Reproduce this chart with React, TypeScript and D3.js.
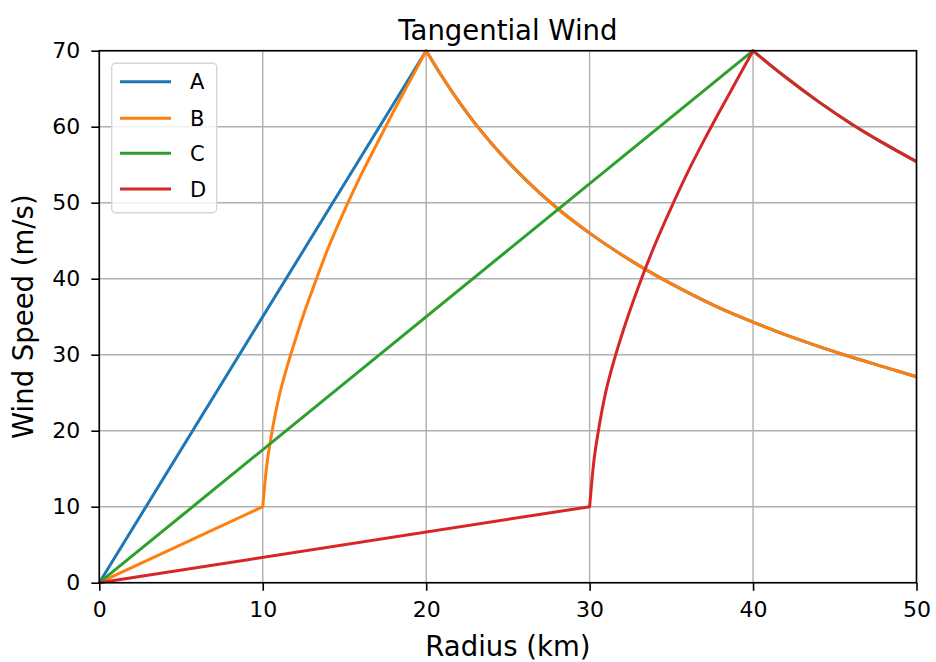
import * as d3 from "d3";
import { useRef, useEffect } from "react";

type Pt = [number, number];

// radius (km) / wind speed (m/s)
const radiusTicks = [0, 10, 20, 30, 40, 50];
const speedTicks = [0, 10, 20, 30, 40, 50, 60, 70];
const seriesNames = ["A", "B", "C", "D"];
const seriesColors = ["#1f77b4", "#ff7f0e", "#2ca02c", "#d62728"];

const aRise: Pt[] = [[0, 0], [20, 70]];
const bInner: Pt[] = [[0, 0], [10, 10]];
const bRise: Pt[] = [
  [10, 10], [10.25, 15.5], [10.5, 19], [10.75, 22], [11, 24.5], [11.5, 28.5],
  [12, 32], [12.5, 35.3], [13, 38.3], [14, 44], [15, 49], [16, 53.6],
  [17, 57.8], [18, 62], [19, 66], [20, 70]
];
const decay20: Pt[] = [
  [20, 70], [21, 66.5], [22, 63.3], [23, 60.4], [24, 57.8], [26, 53.2],
  [28, 49.3], [30, 46], [32, 43.1], [34, 40.5], [36, 38.2], [38, 36.1],
  [40, 34.3], [42, 32.6], [44, 31.1], [46, 29.7], [48, 28.4], [50, 27.1]
];
const cRise: Pt[] = [[0, 0], [40, 70]];
const dInner: Pt[] = [[0, 0], [30, 10]];
const dRise: Pt[] = [
  [30, 10], [30.25, 15.8], [30.5, 19.5], [30.75, 22.6], [31, 25.2], [31.5, 29.3],
  [32, 32.8], [32.5, 36], [33, 39], [34, 44.5], [35, 49.4], [36, 54],
  [37, 58.2], [38, 62.2], [39, 66.1], [40, 70]
];
const decay40: Pt[] = [
  [40, 70], [41, 68.2], [42, 66.5], [44, 63.3], [46, 60.4], [48, 57.8], [50, 55.4]
];

const seriesSegments: Pt[][][] = [
  [aRise, decay20],
  [bInner, bRise, decay20],
  [cRise, decay40],
  [dInner, dRise, decay40]
];

const FONT = "'DejaVu Sans', sans-serif";

export default function App() {
  const width = 936;
  const height = 662;
  const marginLeft = 99.3;
  const marginRight = width - 916.5;
  const marginTop = 50.7;
  const marginBottom = height - 582.7;

  const gx = useRef<SVGGElement>(null);
  const gy = useRef<SVGGElement>(null);

  const x = d3.scaleLinear().domain([0, 50]).range([marginLeft, width - marginRight]);
  const y = d3.scaleLinear().domain([0, 70]).range([height - marginBottom, marginTop]);

  const line = d3.line<Pt>()
    .x(d => x(d[0]))
    .y(d => y(d[1]))
    .curve(d3.curveMonotoneX);

  // join the segments into one path so the kinks get a real line join
  const pathFor = (segs: Pt[][]) =>
    segs.map((s, i) => (i === 0 ? line(s)! : "L" + line(s)!.slice(1))).join("");

  useEffect(() => {
    const ax = d3.select(gx.current!)
      .call(d3.axisBottom(x).tickValues(radiusTicks).tickSize(8).tickPadding(11));
    const ay = d3.select(gy.current!)
      .call(d3.axisLeft(y).tickValues(speedTicks).tickSize(8).tickPadding(11));
    [ax, ay].forEach(g => {
      g.select(".domain").remove();
      g.selectAll(".tick line").attr("stroke", "#000").attr("stroke-width", 1.6);
      g.selectAll(".tick text")
        .attr("fill", "#000")
        .style("font-size", "22px")
        .style("font-family", FONT);
    });
  }, [x, y]);

  const legendX = 111.7;
  const legendY = 63.3;
  const rowY = [81.7, 118.3, 153.3, 189];

  return (
    <svg width={width} height={height} style={{ position: "absolute", left: 0, top: 0 }}>
      <rect width={width} height={height} fill="#fff" />
      <g stroke="#b0b0b0" strokeWidth={1.4}>
        {radiusTicks.map(t => (
          <line key={"gx" + t} x1={x(t)} x2={x(t)} y1={y(0)} y2={y(70)} />
        ))}
        {speedTicks.map(t => (
          <line key={"gy" + t} x1={x(0)} x2={x(50)} y1={y(t)} y2={y(t)} />
        ))}
      </g>
      <g fill="none" strokeWidth={3} strokeLinejoin="round">
        {seriesSegments.map((segs, i) => (
          <path key={i} d={pathFor(segs)} stroke={seriesColors[i]} />
        ))}
      </g>
      <rect
        x={x(0)} y={y(70)} width={x(50) - x(0)} height={y(0) - y(70)}
        fill="none" stroke="#000" strokeWidth={1.6}
      />
      <g ref={gx} transform={`translate(0,${height - marginBottom})`} />
      <g ref={gy} transform={`translate(${marginLeft},0)`} />

      <g>
        <rect x={legendX} y={legendY} width={105} height={149.4} rx={4}
          fill="#fff" fillOpacity={0.8} stroke="#d6d6d6" strokeWidth={1.4} />
        {seriesNames.map((name, i) => (
          <g key={name}>
            <line x1={120} x2={171} y1={rowY[i]} y2={rowY[i]}
              stroke={seriesColors[i]} strokeWidth={3} />
            <text x={190} y={rowY[i]} dy="0.36em" fontSize={21} fontFamily={FONT}>{name}</text>
          </g>
        ))}
      </g>

      <text x={(x(0) + x(50)) / 2} y={40} textAnchor="middle" fontSize={27.5} fontFamily={FONT}>
        Tangential Wind
      </text>
      <text x={(x(0) + x(50)) / 2} y={656} textAnchor="middle" fontSize={27.5} fontFamily={FONT}>
        Radius (km)
      </text>
      <text
        transform={`translate(33,${(y(0) + y(70)) / 2}) rotate(-90)`}
        textAnchor="middle" fontSize={27.5} fontFamily={FONT}
      >
        Wind Speed (m/s)
      </text>
    </svg>
  );
}
